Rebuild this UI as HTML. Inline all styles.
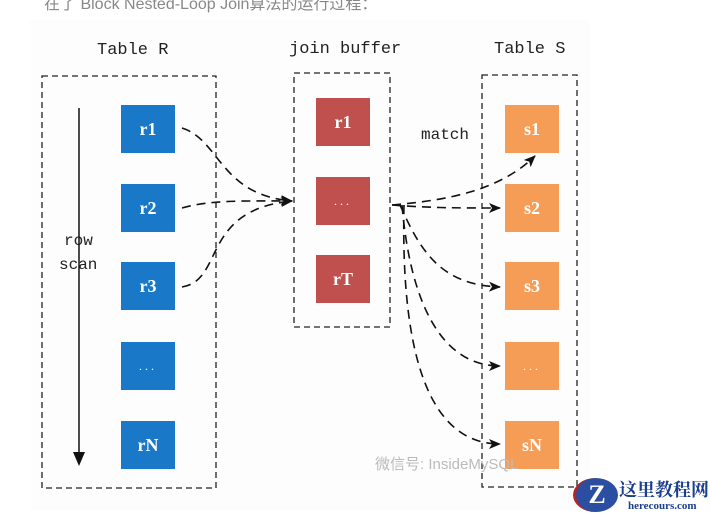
<!DOCTYPE html>
<html><head><meta charset="utf-8"><style>
body{margin:0;width:710px;height:516px;background:#fff;overflow:hidden;position:relative;font-family:"Liberation Mono","Noto Sans CJK SC",monospace}
.t{position:absolute;font-size:17px;color:#222;white-space:nowrap}
.b{position:absolute;width:54px;height:48px;color:#fff;font-family:"Liberation Serif",serif;font-size:18px;display:flex;align-items:center;justify-content:center;font-weight:bold}
.d{font-size:12px;letter-spacing:3px;font-weight:normal}
.bl{background:#1a78c8}.rd{background:#c0504d}.or{background:#f59d56}
</style></head><body>
<div style="position:absolute;left:30px;top:20px;width:560px;height:490px;background:#fdfdfd"></div>
<div class="t" style="left:44px;top:-10px;color:#888;font-size:16px;font-family:'Liberation Sans','Noto Sans CJK SC',sans-serif">在了 Block Nested-Loop Join算法的运行过程：</div>
<div class="t" style="left:97px;top:41px">Table R</div>
<div class="t" style="left:289px;top:40px">join buffer</div>
<div class="t" style="left:494px;top:40px">Table S</div>
<div class="t" style="left:421px;top:126px;font-size:16px">match</div>
<div class="t" style="left:64px;top:232px;font-size:16px">row</div>
<div class="t" style="left:59px;top:256px;font-size:16px">scan</div>
<div class="b bl" style="left:121px;top:105px">r1</div>
<div class="b bl" style="left:121px;top:184px">r2</div>
<div class="b bl" style="left:121px;top:262px">r3</div>
<div class="b bl d" style="left:121px;top:342px">...</div>
<div class="b bl" style="left:121px;top:421px">rN</div>
<div class="b rd" style="left:316px;top:98px">r1</div>
<div class="b rd d" style="left:316px;top:177px">...</div>
<div class="b rd" style="left:316px;top:255px">rT</div>
<div class="b or" style="left:505px;top:105px">s1</div>
<div class="b or" style="left:505px;top:184px">s2</div>
<div class="b or" style="left:505px;top:262px">s3</div>
<div class="b or d" style="left:505px;top:342px">...</div>
<div class="b or" style="left:505px;top:421px">sN</div>
<svg width="710" height="516" style="position:absolute;left:0;top:0">
<defs><marker id="a" markerWidth="12" markerHeight="10" refX="11" refY="5" orient="auto" markerUnits="userSpaceOnUse"><path d="M0,0L12,5L0,10L3,5z" fill="#111"/></marker></defs>
<g fill="none" stroke="#222" stroke-width="1.3" stroke-dasharray="6,4">
<rect x="42" y="76" width="174" height="412"/>
<rect x="294" y="73" width="96" height="254"/>
<rect x="482" y="75" width="95" height="412"/>
</g>
<line x1="79" y1="108" x2="79" y2="462" stroke="#111" stroke-width="1.5"/>
<path d="M73,452L79,466L85,452z" fill="#111"/>
<g fill="none" stroke="#111" stroke-width="1.6" stroke-dasharray="9,6" marker-end="url(#a)">
<path d="M182,128C220,140 220,195 292,201"/>
<path d="M182,208C210,200 240,201 292,201"/>
<path d="M182,287C225,280 200,210 292,201"/>
<path d="M392,205C450,200 500,190 535,156"/>
<path d="M392,205C430,208 460,208 500,208"/>
<path d="M400,205C420,250 440,285 500,287"/>
<path d="M402,205C410,300 440,366 500,366"/>
<path d="M404,205C400,380 440,444 500,444"/>
</g>
</svg>
<div class="t" style="left:375px;top:453px;color:#bbb;font-size:15px;font-family:'Liberation Sans','Noto Sans CJK SC',sans-serif">微信号: InsideMySQL</div>
<div style="position:absolute;left:573px;top:478px;width:42px;height:34px;border-radius:50%;background:#2c4ea0;color:#fff;font:bold 26px 'Liberation Serif',serif;text-align:center;line-height:34px;border-left:3px solid #b22">Z</div>
<div class="t" style="left:619px;top:476px;color:#1a3d8f;font:bold 18px 'Noto Serif CJK SC',serif">这里教程网</div>
<div class="t" style="left:628px;top:500px;color:#1a3d8f;font:bold 11px 'Liberation Serif',serif">herecours.com</div>
</body></html>
